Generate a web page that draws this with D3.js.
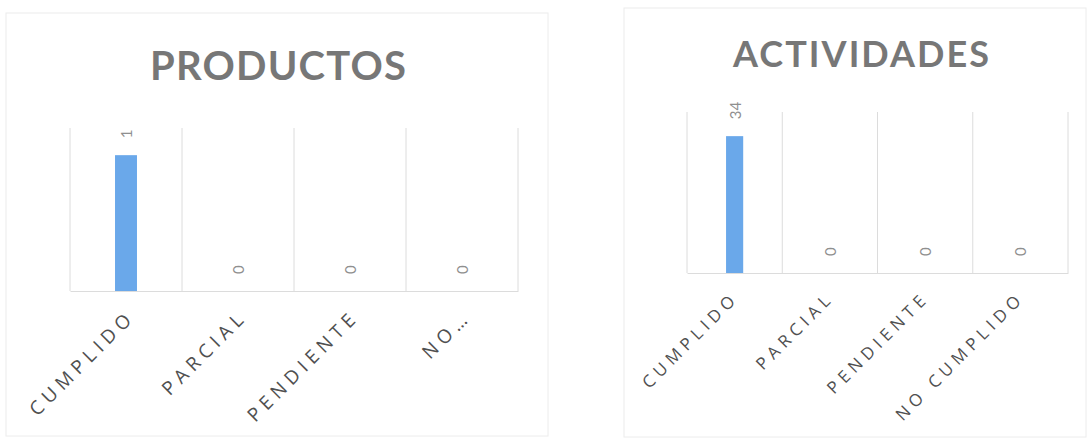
<!DOCTYPE html>
<html>
<head>
<meta charset="utf-8">
<script src="https://cdn.jsdelivr.net/npm/d3@7"></script>
<style>
  body { margin: 0; background: #fff; }
  svg { display: block; }
</style>
</head>
<body>
<svg class="charts" width="1090" height="441"></svg>
<script>
const categories = ['CUMPLIDO', 'PARCIAL', 'PENDIENTE', 'NO CUMPLIDO'];
const productosTicks = ['CUMPLIDO', 'PARCIAL', 'PENDIENTE', 'NO…'];
const actividadesTicks = ['CUMPLIDO', 'PARCIAL', 'PENDIENTE', 'NO CUMPLIDO'];
const productosValues = [1, 0, 0, 0];
const actividadesValues = [34, 0, 0, 0];
const productosMax = 1.2;
const actividadesMax = 40;

const svg = d3.select('.charts');
const barColor = '#6aa8ea';
const gridColor = '#dcdcdc';

function drawChart(o) {
    const g = svg.append('g');

    // outer frame of the pasted chart
    g.append('rect')
        .attr('x', o.box[0]).attr('y', o.box[1])
        .attr('width', o.box[2] - o.box[0]).attr('height', o.box[3] - o.box[1])
        .attr('fill', 'none').attr('stroke', '#ececec');

    g.append('text')
        .attr('x', o.titleX).attr('y', o.titleY)
        .attr('textLength', o.titleLen).attr('lengthAdjust', 'spacing')
        .attr('font-family', 'Lato, "Open Sans", sans-serif')
        .attr('font-weight', 700)
        .attr('font-size', o.titleSize)
        .attr('fill', '#777')
        .text(o.title);

    const x = d3.scaleBand().domain(categories).range([o.x0, o.x1]).padding(0);
    const y = d3.scaleLinear().domain([0, o.max]).range([o.y1, o.y0]);

    // vertical grid at the band edges
    const edges = categories.map(c => x(c)).concat([o.x1]);
    g.selectAll('line.grid').data(edges).enter().append('line')
        .attr('class', 'grid')
        .attr('x1', d => d).attr('x2', d => d)
        .attr('y1', o.y0).attr('y2', o.y1)
        .attr('stroke', gridColor);

    const bw = x.bandwidth() * o.barRatio;
    g.selectAll('rect.bar').data(o.values).enter().append('rect')
        .attr('class', 'bar')
        .attr('x', (d, i) => x(categories[i]) + x.bandwidth() / 2 - bw / 2)
        .attr('y', d => y(d))
        .attr('width', bw)
        .attr('height', d => y(0) - y(d))
        .attr('fill', barColor);

    // baseline
    const axis = g.append('g')
        .attr('transform', `translate(0,${o.y1})`)
        .call(d3.axisBottom(x).tickSize(0).tickFormat(''));
    axis.select('.domain').attr('stroke', gridColor);

    g.selectAll('text.val').data(o.values).enter().append('text')
        .attr('class', 'val')
        .attr('transform', (d, i) => `translate(${x(categories[i]) + x.bandwidth() / 2},${y(d) - 17}) rotate(-90)`)
        .attr('dominant-baseline', 'central')
        .attr('font-family', 'Lato, sans-serif')
        .attr('font-size', o.valSize)
        .attr('fill', '#8f8f8f')
        .text(d => d);

    const labels = g.selectAll('text.cat').data(o.ticks).enter().append('text')
        .attr('class', 'cat')
        .attr('text-anchor', 'end')
        .attr('font-family', '"Open Sans", Lato, sans-serif')
        .attr('font-size', o.labelSize)
        .attr('fill', '#505050')
        .text(d => d);

    // stretch the letters so that CUMPLIDO takes the length seen in the picture
    const natural = labels.node().getComputedTextLength();
    const spacing = Math.max(0, (o.labelLen - natural) / 8);
    labels.attr('letter-spacing', spacing)
        .attr('transform', (d, i) => `translate(${x(categories[i]) + x.bandwidth() / 2 + o.labelDx + spacing},${o.y1 + o.labelDy}) rotate(-45)`);
}

drawChart({
    box: [6, 13, 548, 436],
    title: 'PRODUCTOS', titleX: 150, titleY: 80, titleSize: 40, titleLen: 256,
    x0: 70, x1: 518, y0: 128, y1: 291,
    max: productosMax, values: productosValues, ticks: productosTicks,
    barRatio: 0.196, valSize: 15,
    labelSize: 19, labelLen: 140, labelDx: 5, labelDy: 27
});

drawChart({
    box: [624, 8, 1086, 437],
    title: 'ACTIVIDADES', titleX: 733, titleY: 67, titleSize: 36, titleLen: 256,
    x0: 687, x1: 1068, y0: 112, y1: 273,
    max: actividadesMax, values: actividadesValues, ticks: actividadesTicks,
    barRatio: 0.18, valSize: 15,
    labelSize: 17, labelLen: 128, labelDx: 0, labelDy: 26
});
</script>
</body>
</html>
